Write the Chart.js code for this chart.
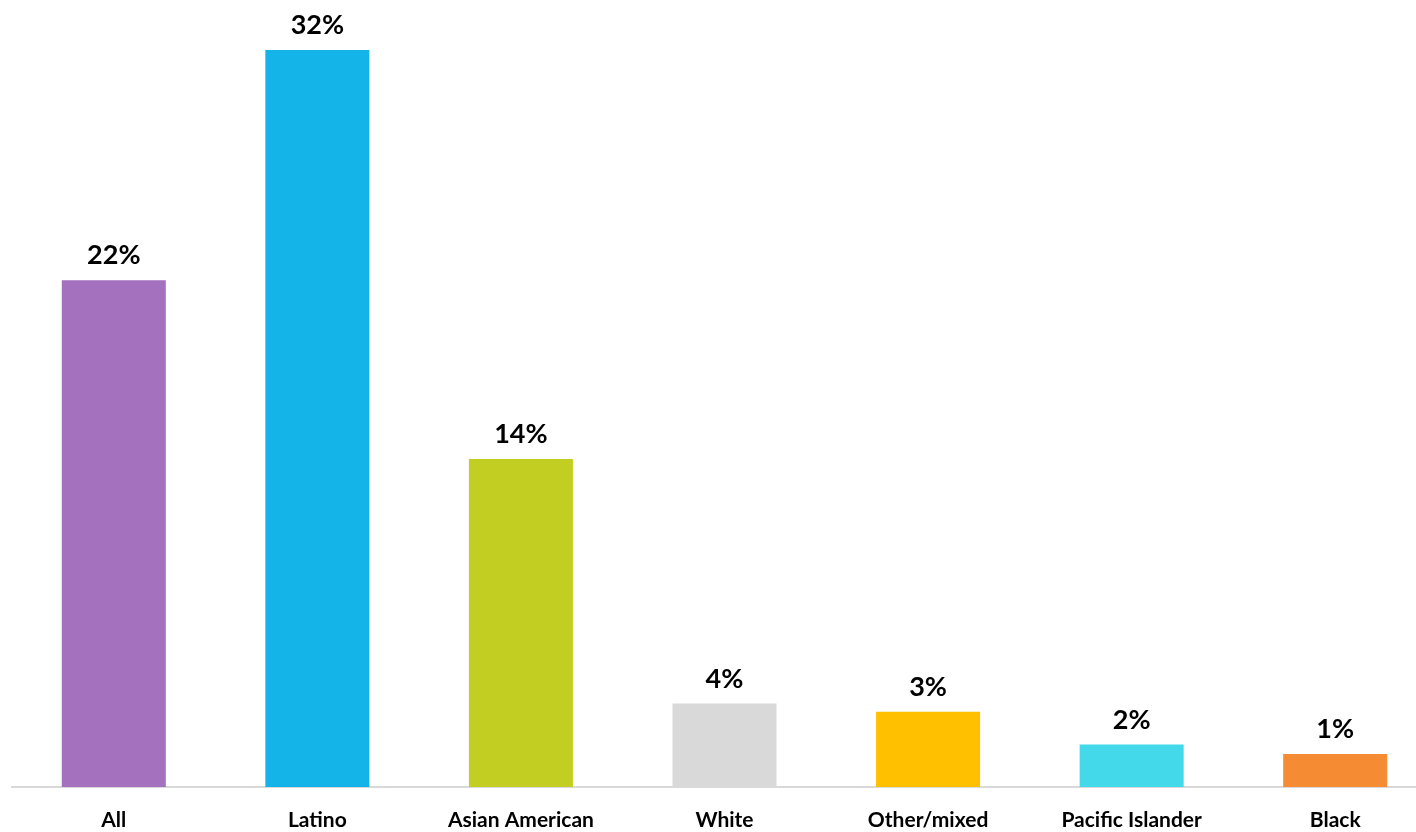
<!DOCTYPE html>
<html>
<head>
<meta charset="utf-8">
<script src="https://cdn.jsdelivr.net/npm/chart.js@4.4.1/dist/chart.umd.min.js"></script>
<style>
html,body{margin:0;padding:0;background:#fff;overflow:hidden;}
#wrap{width:1416px;height:832px;overflow:hidden;}
#box{width:1437px;height:832px;position:relative;}
</style>
</head>
<body>
<div id="wrap"><div id="box"><canvas id="myBarChart"></canvas></div></div>
<script>
const categories = ["All", "Latino", "Asian American", "White", "Other/mixed", "Pacific Islander", "Black"];
const values = [22, 32, 14.24, 3.62, 3.27, 1.84, 1.43];
const colors = ["#a471bf", "#14b4e8", "#c2cf22", "#d9d9d9", "#ffc000", "#43d9eb", "#f58b33"];

// labels over the bars
const barLabels = {
    id: 'barLabels',
    afterDatasetsDraw(chart) {
        const ctx = chart.ctx;
        const meta = chart.getDatasetMeta(0);
        ctx.save();
        ctx.font = "bold 27px Lato";
        ctx.fillStyle = "#000";
        ctx.textAlign = "center";
        ctx.textBaseline = "alphabetic";
        meta.data.forEach((bar, i) => {
            ctx.fillText(Math.round(values[i]) + "%", bar.x, bar.y - 16);
        });
        ctx.restore();
    }
};

var ctx = document.getElementById("myBarChart");
var myBarChart = new Chart(ctx, {
    type: 'bar',
    data: {
        labels: categories,
        datasets: [
            {
                data: values,
                backgroundColor: colors,
                barPercentage: 0.511,
                categoryPercentage: 1
            }
        ]
    },
    options: {
        responsive: true,
        maintainAspectRatio: false,
        animation: false,
        layout: {padding: {left: 12, right: 0, top: 0, bottom: 0}},
        plugins: {
            legend: {display: false},
            tooltip: {enabled: false}
        },
        scales: {
            x: {
                grid: {display: false, drawTicks: false},
                border: {display: true, color: "#d9d9d9", width: 2},
                ticks: {
                    color: "#000",
                    font: {family: "Lato", size: 21, weight: "bold"},
                    padding: 21,
                    maxRotation: 0,
                    autoSkip: false
                },
                afterFit: s => { s.height = 45; }
            },
            y: {
                display: false,
                min: 0,
                max: 34.17
            }
        }
    },
    plugins: [barLabels]
});
</script>
</body>
</html>
